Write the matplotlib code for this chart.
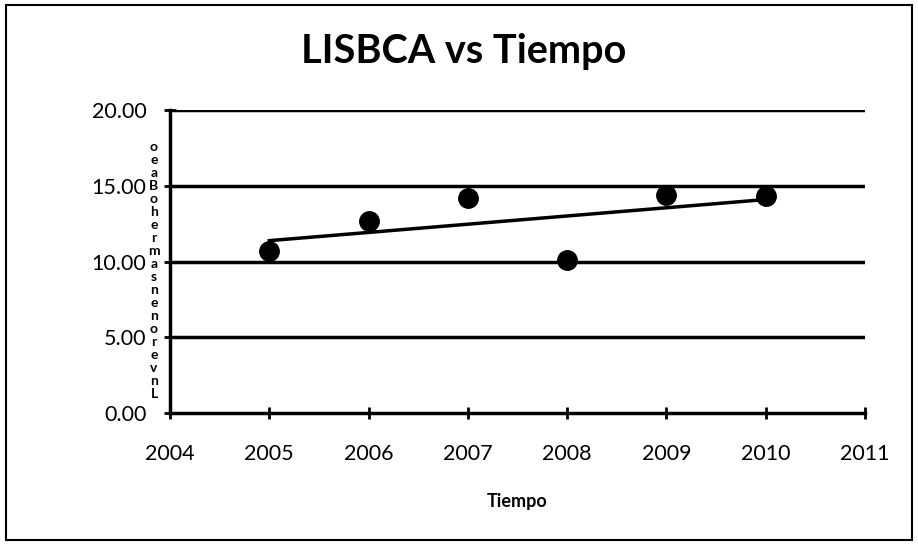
import numpy as np
import matplotlib.pyplot as plt
from matplotlib.patches import Rectangle

years = [2005, 2006, 2007, 2008, 2009, 2010]
lisbca = [10.7, 12.7, 14.2, 10.1, 14.4, 14.3]
y_ticks = [0, 5, 10, 15, 20]
x_ticks = [2004, 2005, 2006, 2007, 2008, 2009, 2010, 2011]
# garbled y label as it appears in the scan
ylabel_chars = list("oeaBohermasnenorevnL")

plt.rcParams['font.family'] = ['Lato', 'DejaVu Sans']

fig = plt.figure(figsize=(9.18, 5.47), dpi=100)
fig.patches.append(Rectangle((0.006, 0.012), 0.988, 0.978, transform=fig.transFigure,
                             fill=False, edgecolor='black', linewidth=1.5))

ax = fig.add_axes([170 / 918, 1 - 413 / 547, (865 - 170) / 918, (413 - 110) / 547])

# trend line
coef = np.polyfit(years, lisbca, 1)
tx = np.array([years[0], years[-1]])
ax.plot(tx, np.polyval(coef, tx), color='black', lw=2.5, zorder=3)
ax.plot(years, lisbca, 'o', color='black', markersize=14, zorder=4)

ax.set_xlim(2004, 2011)
ax.set_ylim(0, 20)
ax.set_xticks(x_ticks)
ax.set_yticks(y_ticks)
ax.set_yticklabels(['%.2f' % v for v in y_ticks])
for v in y_ticks[1:]:
    ax.axhline(v, color='black', lw=2.5, zorder=1)

for s in ['top', 'right']:
    ax.spines[s].set_visible(False)
for s in ['left', 'bottom']:
    ax.spines[s].set_linewidth(2.5)
ax.tick_params(direction='inout', length=8, width=2, labelsize=15.5)
ax.tick_params(axis='y', pad=13)
ax.tick_params(axis='x', pad=18)

ax.set_xlabel('Tiempo', fontsize=13, fontweight='bold', labelpad=21)
fig.text(464 / 918, 1 - 51 / 547, 'LISBCA vs Tiempo', ha='center', va='center',
         fontsize=28.5, fontweight='bold')
fig.text(154 / 918, 1 - 270 / 547, '\n'.join(ylabel_chars), ha='center', va='center',
         fontsize=10, fontweight='bold', linespacing=1.1)

fig.savefig('out.png', dpi=100, facecolor='white')
